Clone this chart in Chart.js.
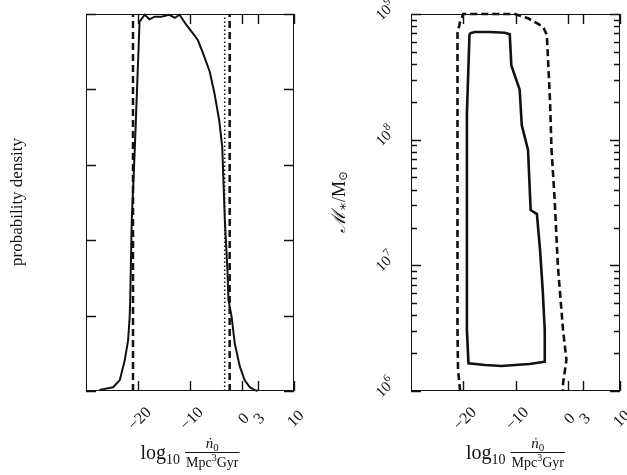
<!DOCTYPE html>
<html>
<head>
<meta charset="utf-8">
<script src="https://cdn.jsdelivr.net/npm/chart.js@4/dist/chart.umd.min.js"></script>
<style>
html, body { margin: 0; padding: 0; background: #fff; }
#quadro { position: relative; width: 627px; height: 475px; }
#quadro canvas { position: absolute; top: 0; }
#graficoDensidade { left: 0; }
#graficoMassa { left: 313px; }
</style>
</head>
<body>
<div id="quadro">
  <canvas id="graficoDensidade" width="313" height="475"></canvas>
  <canvas id="graficoMassa" width="314" height="475"></canvas>
</div>
<script>
// eixo x comum: log10 n0
var ticksX = [-20, -10, 0, 3, 10];
var rotulosX = ['\u221220', '\u221210', '0', '3', '10'];

// painel esquerdo: densidade de probabilidade
var densidadeX = [-27.4, -24.8, -23.5, -22.6, -21.9, -21.6, -21.5, -21.2, -20.6, -19.7, -18.7, -17.8, -16.8, -15.5, -14.0, -12.9, -12.0, -10.7, -9.7, -8.5, -7.5, -6.2, -5.3, -4.4, -3.8, -3.3, -2.8, -2.6, -2.0, -1.4, -0.4, 0.5, 1.5, 2.4, 3.0];
var densidadeY = [0.003, 0.010, 0.029, 0.078, 0.135, 0.197, 0.241, 0.454, 0.648, 0.980, 0.998, 0.986, 0.993, 0.993, 0.998, 0.990, 0.998, 0.971, 0.953, 0.931, 0.896, 0.847, 0.790, 0.719, 0.648, 0.454, 0.321, 0.241, 0.197, 0.127, 0.064, 0.029, 0.010, 0.003, 0.0];
var limitesTracejados = [-20.96, -2.37];
var limitePontilhado = -3.33;
var ticksDensidade = [0, 0.2, 0.4, 0.6, 0.8, 1.0];

// painel direito: contornos em massa estelar
var contornoSolidoX = [-18.8, -17.8, -14.9, -12.0, -11.1, -10.8, -9.2, -8.8, -7.6, -7.1, -5.9, -5.3, -4.8, -4.4, -4.4, -7.3, -10.1, -12.7, -15.8, -19.0, -19.3, -19.3, -19.3, -19.3, -18.8];
var contornoSolidoY = [7.0e8, 7.2e8, 7.2e8, 7.1e8, 6.9e8, 3.9e8, 2.5e8, 1.3e8, 8.3e7, 2.75e7, 2.56e7, 1.32e7, 6.4e6, 3.05e6, 1.71e6, 1.64e6, 1.61e6, 1.58e6, 1.61e6, 1.66e6, 3.05e6, 7.6e6, 6.9e7, 1.6e8, 7.0e8];
var contornoTracejadoX = [-20.6, -21.0, -21.1, -21.1, -21.1, -21.1, -20.6, -20.0, -14.9, -10.1, -7.6, -4.7, -4.0, -3.4, -3.1, -2.5, -1.9, -0.9, -0.25, -0.9, -0.95];
var contornoTracejadoY = [1e6, 1.47e6, 3.05e6, 3.31e7, 4.31e8, 7.0e8, 8.7e8, 1e9, 1e9, 1e9, 9.25e8, 7.9e8, 6.8e8, 2.07e8, 8.3e7, 3.3e7, 1.0e7, 3.05e6, 1.77e6, 1.15e6, 1e6];
var decadasMassa = [6, 7, 8, 9];

var SERIF = '"Liberation Serif", "DejaVu Serif", serif';

function pares(xs, ys) {
    return xs.map(function(x, i) { return {x: x, y: ys[i]}; });
}

// texto com partes em tamanhos/deslocamentos diferentes (subscritos etc.)
function larguraPartes(ctx, partes) {
    var w = 0;
    partes.forEach(function(p) {
        ctx.font = (p.estilo || '') + ' ' + p.tam + 'px ' + SERIF;
        w += ctx.measureText(p.t).width;
    });
    return w;
}
function desenhaPartes(ctx, partes, x, y) {
    partes.forEach(function(p) {
        ctx.font = (p.estilo || '') + ' ' + p.tam + 'px ' + SERIF;
        ctx.fillText(p.t, x, y + (p.dy || 0));
        x += ctx.measureText(p.t).width;
    });
    return x;
}

function desenhaTituloX(ctx, cx) {
    var log = [{t: 'log', tam: 20}, {t: '10', tam: 14, dy: 5}];
    var num = [{t: '\u1E45', tam: 15, estilo: 'italic'}, {t: '0', tam: 11, dy: 3}];
    var den = [{t: 'Mpc', tam: 14}, {t: '3', tam: 10, dy: -6}, {t: 'Gyr', tam: 14}];
    var wLog = larguraPartes(ctx, log);
    var wNum = larguraPartes(ctx, num);
    var wDen = larguraPartes(ctx, den);
    var wFrac = Math.max(wNum, wDen) + 2;
    var x0 = cx - (wLog + 5 + wFrac) / 2;
    ctx.textAlign = 'left';
    ctx.textBaseline = 'alphabetic';
    desenhaPartes(ctx, log, x0, 459);
    var xf = x0 + wLog + 5;
    desenhaPartes(ctx, num, xf + (wFrac - wNum) / 2, 448);
    desenhaPartes(ctx, den, xf + (wFrac - wDen) / 2, 467);
    ctx.lineWidth = 1;
    ctx.beginPath();
    ctx.moveTo(xf, 452.5);
    ctx.lineTo(xf + wFrac, 452.5);
    ctx.stroke();
}

var moldura = {
    id: 'moldura',
    afterDraw: function(chart, args, opts) {
        var ctx = chart.ctx, a = chart.chartArea;
        var sx = chart.scales.x, sy = chart.scales.y;
        ctx.save();
        ctx.strokeStyle = '#111';
        ctx.fillStyle = '#111';
        ctx.lineWidth = 1;
        ctx.strokeRect(a.left + 0.5, a.top + 0.5, a.right - a.left - 1, a.bottom - a.top - 1);

        ctx.lineWidth = 1.4;
        ctx.beginPath();
        ticksX.forEach(function(v) {
            var px = Math.round(sx.getPixelForValue(v)) + 0.5;
            ctx.moveTo(px, a.bottom); ctx.lineTo(px, a.bottom - 10);
            ctx.moveTo(px, a.top); ctx.lineTo(px, a.top + 10);
        });
        opts.ticksY.forEach(function(t) {
            var py = Math.round(sy.getPixelForValue(t.v)) + 0.5;
            ctx.moveTo(a.left, py); ctx.lineTo(a.left + t.len, py);
            ctx.moveTo(a.right, py); ctx.lineTo(a.right - t.len, py);
        });
        ctx.stroke();

        ctx.font = '16px ' + SERIF;
        ctx.textAlign = 'center';
        ctx.textBaseline = 'middle';
        ticksX.forEach(function(v, i) {
            var px = sx.getPixelForValue(v);
            ctx.save();
            ctx.translate(px + 2, a.bottom + 28);
            ctx.rotate(-Math.PI / 4);
            ctx.fillText(rotulosX[i], 0, 0);
            ctx.restore();
        });

        (opts.rotulosY || []).forEach(function(r) {
            var py = sy.getPixelForValue(r.v);
            var partes = [{t: '10', tam: 15}, {t: r.exp, tam: 11, dy: -6}];
            var w = larguraPartes(ctx, partes);
            ctx.save();
            ctx.translate(a.left - 25, py - 3);
            ctx.rotate(-Math.PI / 4);
            ctx.textAlign = 'left';
            desenhaPartes(ctx, partes, -w / 2, 0);
            ctx.restore();
        });

        ctx.save();
        ctx.translate(opts.tituloY.x, 202);
        ctx.rotate(-Math.PI / 2);
        ctx.textAlign = 'left';
        ctx.textBaseline = 'middle';
        var w = larguraPartes(ctx, opts.tituloY.partes);
        desenhaPartes(ctx, opts.tituloY.partes, -w / 2, 0);
        ctx.restore();

        desenhaTituloX(ctx, (a.left + a.right) / 2);
        ctx.restore();
    }
};

function eixosBase(tipoY, minY, maxY) {
    return {
        x: {type: 'linear', display: false, min: -30, max: 10},
        y: {type: tipoY, display: false, min: minY, max: maxY}
    };
}

var Painel = Painel || {};

Painel.Densidade = (function() {
    function Densidade() {
        this.ctx = document.getElementById('graficoDensidade').getContext('2d');
    }
    Densidade.prototype.iniciar = function() {
        var verticais = limitesTracejados.map(function(x) {
            return {data: [{x: x, y: 0}, {x: x, y: 1}], borderColor: '#111', borderWidth: 2.5, borderDash: [7, 4], showLine: true, pointRadius: 0};
        });
        verticais.push({data: [{x: limitePontilhado, y: 0}, {x: limitePontilhado, y: 1}], borderColor: '#111', borderWidth: 1.5, borderDash: [1.5, 2.5], showLine: true, pointRadius: 0});
        new Chart(this.ctx, {
            type: 'scatter',
            data: {
                datasets: [{
                    data: pares(densidadeX, densidadeY),
                    borderColor: '#111',
                    borderWidth: 2,
                    showLine: true,
                    pointRadius: 0,
                    clip: false
                }].concat(verticais)
            },
            options: {
                responsive: false,
                animation: false,
                layout: {padding: {left: 86, right: 19, top: 14, bottom: 84}},
                scales: eixosBase('linear', 0, 1),
                plugins: {
                    legend: {display: false},
                    tooltip: {enabled: false},
                    moldura: {
                        ticksY: ticksDensidade.map(function(v) { return {v: v, len: 10}; }),
                        tituloY: {x: 18, partes: [{t: 'probability density', tam: 17}]}
                    }
                }
            },
            plugins: [moldura]
        });
    };
    return Densidade;
}());

Painel.Massa = (function() {
    function Massa() {
        this.ctx = document.getElementById('graficoMassa').getContext('2d');
    }
    Massa.prototype.iniciar = function() {
        var ticksY = [];
        decadasMassa.forEach(function(d) {
            ticksY.push({v: Math.pow(10, d), len: 10});
            if (d < 9) {
                for (var m = 2; m <= 9; m++) ticksY.push({v: m * Math.pow(10, d), len: 6});
            }
        });
        new Chart(this.ctx, {
            type: 'scatter',
            data: {
                datasets: [{
                    data: pares(contornoSolidoX, contornoSolidoY),
                    borderColor: '#111',
                    borderWidth: 2.6,
                    showLine: true,
                    pointRadius: 0
                }, {
                    data: pares(contornoTracejadoX, contornoTracejadoY),
                    borderColor: '#111',
                    borderWidth: 2.6,
                    borderDash: [7, 4],
                    showLine: true,
                    pointRadius: 0,
                    clip: false
                }]
            },
            options: {
                responsive: false,
                animation: false,
                layout: {padding: {left: 98, right: 7, top: 14, bottom: 84}},
                scales: eixosBase('logarithmic', 1e6, 1e9),
                plugins: {
                    legend: {display: false},
                    tooltip: {enabled: false},
                    moldura: {
                        ticksY: ticksY,
                        rotulosY: decadasMassa.map(function(d) { return {v: Math.pow(10, d), exp: String(d)}; }),
                        tituloY: {x: 27, partes: [
                            {t: '\u2133', tam: 19, estilo: 'italic'},
                            {t: '\u2217', tam: 13, dy: 4},
                            {t: '/M', tam: 18},
                            {t: '\u2299', tam: 12, dy: 4}
                        ]}
                    }
                }
            },
            plugins: [moldura]
        });
    };
    return Massa;
}());

new Painel.Densidade().iniciar();
new Painel.Massa().iniciar();
</script>
</body>
</html>
